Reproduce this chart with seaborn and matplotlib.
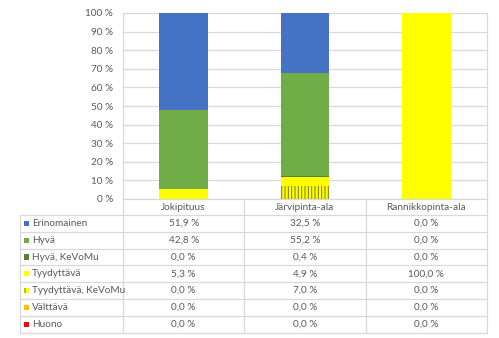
import matplotlib
matplotlib.use("Agg")
import matplotlib.pyplot as plt
from matplotlib.patches import Rectangle
from matplotlib.lines import Line2D
import numpy as np
import pandas as pd
import seaborn as sns

# Categories and ecological status shares (%), bottom-to-top stacking order reversed below
categories = ["Jokipituus", "Järvipinta-ala", "Rannikkopinta-ala"]
series_names = ["Erinomainen", "Hyvä", "Hyvä, KeVoMu", "Tyydyttävä",
                "Tyydyttävä, KeVoMu", "Välttävä", "Huono"]
erinomainen = [51.9, 32.5, 0.0]
hyva = [42.8, 55.2, 0.0]
hyva_kevomu = [0.0, 0.4, 0.0]
tyydyttava = [5.3, 4.9, 100.0]
tyydyttava_kevomu = [0.0, 7.0, 0.0]
valttava = [0.0, 0.0, 0.0]
huono = [0.0, 0.0, 0.0]
y_ticks = [0, 10, 20, 30, 40, 50, 60, 70, 80, 90, 100]

values = [erinomainen, hyva, hyva_kevomu, tyydyttava, tyydyttava_kevomu, valttava, huono]
colors = ["#4472C4", "#70AD47", "#548235", "#FFFF00", "#FFFF00", "#FFC000", "#FF0000"]
hatches = [None, None, None, None, "|||||", None, None]
hatch_edge = "#7A7A2A"

sns.set_theme(style="white")
plt.rcParams["font.family"] = ["Lato", "DejaVu Sans"]
plt.rcParams["hatch.linewidth"] = 0.7

W, H = 499, 338
fig = plt.figure(figsize=(W / 100, H / 100), dpi=100)
fig.patch.set_facecolor("white")

text_color = "#595959"
line_color = "#D9D9D9"
fs = 7.2

# Plot area in pixel coordinates
px_l, px_r, px_t, px_b = 123, 487, 13, 199
ax = fig.add_axes([px_l / W, 1 - px_b / H, (px_r - px_l) / W, (px_b - px_t) / H])

df = pd.DataFrame({"kategoria": categories})
bottom = np.zeros(len(categories))
# Stack from the lowest class (Huono) upward
for name, vals, col, hat in reversed(list(zip(series_names, values, colors, hatches))):
    df["arvo"] = vals
    kw = dict(color=col, saturation=1, width=0.4, bottom=bottom.copy(), ax=ax, zorder=3)
    if hat:
        kw.update(hatch=hat, edgecolor=hatch_edge, linewidth=0)
    else:
        kw.update(linewidth=0)
    sns.barplot(data=df, x="kategoria", y="arvo", **kw)
    bottom += np.array(vals)

ax.set_xlim(-0.5, 2.5)
ax.set_ylim(0, 100)
ax.set_yticks(y_ticks)
ax.set_yticklabels([f"{t} %" for t in y_ticks], color=text_color, fontsize=fs)
ax.set_xticks([])
ax.set_xlabel("")
ax.set_ylabel("")
ax.tick_params(axis="y", length=0, pad=7)
ax.grid(axis="y", color=line_color, linewidth=0.9, zorder=0)
for side in ["left", "right", "bottom"]:
    ax.spines[side].set_color(line_color)
    ax.spines[side].set_linewidth(0.9)
ax.spines["top"].set_visible(False)

# Data table beneath the plot, laid out in pixel coordinates
tab = fig.add_axes([0, 0, 1, 1])
tab.set_xlim(0, W)
tab.set_ylim(H, 0)
tab.axis("off")

col_w = (px_r - px_l) / 3
col_edges = [px_l + i * col_w for i in range(4)]
legend_left = 20
header_top, header_bot = px_b, 215
row_h = 16.8
row_tops = [header_bot + i * row_h for i in range(len(series_names) + 1)]
table_bot = row_tops[-1]

def hline(y, x0, x1):
    tab.add_line(Line2D([x0, x1], [y, y], color=line_color, linewidth=0.9))

def vline(x, y0, y1):
    tab.add_line(Line2D([x, x], [y0, y1], color=line_color, linewidth=0.9))

for y in row_tops:
    hline(y, legend_left, px_r)
for x in col_edges:
    vline(x, header_top, table_bot)
vline(legend_left, header_bot, table_bot)

for i, cat in enumerate(categories):
    tab.text(col_edges[i] + col_w / 2, (header_top + header_bot) / 2 + 0.5, cat,
             ha="center", va="center", fontsize=fs, color=text_color)

for r, (name, vals, col, hat) in enumerate(zip(series_names, values, colors, hatches)):
    yc = row_tops[r] + row_h / 2
    key = Rectangle((24, yc - 2.6), 5.2, 5.2, facecolor=col,
                    edgecolor=hatch_edge if hat else "none", linewidth=0,
                    hatch="|||" if hat else None)
    tab.add_patch(key)
    tab.text(32, yc, name, ha="left", va="center", fontsize=fs, color=text_color)
    for i, v in enumerate(vals):
        label = f"{v:.1f}".replace(".", ",") + " %"
        tab.text(col_edges[i] + col_w / 2, yc, label, ha="center", va="center",
                 fontsize=fs, color=text_color)

fig.savefig("out.png", dpi=100, facecolor="white")
